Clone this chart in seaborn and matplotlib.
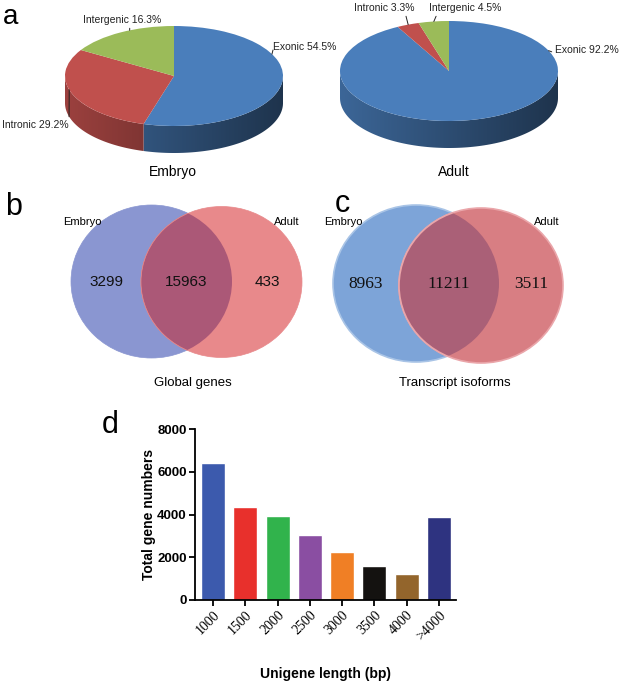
# Transcriptome overview: read distribution pies, Venn overlaps and unigene length bars

import numpy as np
import matplotlib
matplotlib.use('Agg')
import matplotlib.pyplot as plt
from matplotlib.patches import Ellipse, Polygon
import seaborn as sns

sns.set_theme(style='ticks')
plt.rcParams['font.family'] = ['Liberation Sans', 'DejaVu Sans']
plt.rcParams['text.color'] = 'black'
plt.rcParams['axes.labelcolor'] = 'black'
plt.rcParams['xtick.color'] = 'black'
plt.rcParams['ytick.color'] = 'black'

W, H = 620, 690

# ---- a: read distribution (%) ----
region_names = ['Exonic', 'Intronic', 'Intergenic']
embryo_pct = [54.5, 29.2, 16.3]
adult_pct = [92.2, 3.3, 4.5]
pie_colors = ['#4a7ebb', '#c0504d', '#9bbb59']

# ---- b, c: Venn counts (embryo only, shared, adult only) ----
venn_sets = ['Embryo', 'Adult']
genes_venn = [3299, 15963, 433]
isoform_venn = [8963, 11211, 3511]

# ---- d: unigene length distribution ----
length_bins = ['1000', '1500', '2000', '2500', '3000', '3500', '4000', '>4000']
gene_counts = [6400, 4350, 3950, 3060, 2230, 1600, 1230, 3860]
bar_colors = ['#3c5aad', '#e8302c', '#31b34c', '#8a4ea2',
              '#f07f25', '#141210', '#93652c', '#2e3380']


def box(x0, y0, x1, y1):
    # 像素框 (左上為原點) -> figure 座標
    return [x0 / W, 1 - y1 / H, (x1 - x0) / W, (y1 - y0) / H]


def ftext(px, py, s, **kw):
    fig.text(px / W, 1 - py / H, s, **kw)


fig = plt.figure(figsize=(6.2, 6.9), dpi=100)

# ---------------- a: 3D-looking pies ----------------
RX, RY, DEPTH = 109, 50, 27


def pie3d(ax, pct, cx, cy, x0, x1, y0, y1):
    wedges, _ = ax.pie(pct, colors=pie_colors, startangle=90,
                       counterclock=False, wedgeprops=dict(linewidth=0))
    d = DEPTH / RY
    gx = np.linspace(-1, 1, 256)
    shade = 0.61 - 0.2 * gx
    # side wall: front half of each wedge, gradient clipped to its outline
    for w, c in zip(wedges, pie_colors):
        rgb = np.array(matplotlib.colors.to_rgb(c))
        for lo, hi in [(-180, 0), (180, 360)]:
            a, b = max(w.theta1, lo), min(w.theta2, hi)
            if b <= a:
                continue
            ts = np.radians(np.linspace(a, b, 120))
            xs, ys = np.cos(ts), np.sin(ts)
            outline = np.column_stack([np.concatenate([xs, xs[::-1]]),
                                       np.concatenate([ys, ys[::-1] - d])])
            poly = Polygon(outline, closed=True, fc='none', ec='none')
            ax.add_patch(poly)
            img = rgb[None, None, :] * shade[None, :, None]
            im = ax.imshow(img, extent=(-1, 1, -1 - d, 0), aspect='auto',
                           interpolation='bilinear', zorder=0)
            im.set_clip_path(poly)
    ax.set_aspect('auto')
    ax.set_xlim((x0 - cx) / RX, (x1 - cx) / RX)
    ax.set_ylim((cy - y1) / RY, (cy - y0) / RY)
    ax.axis('off')
    return wedges


def pie_label(ax, text, ang, tx, ty, ha, relpos):
    t = np.radians(ang)
    ax.annotate(text, xy=(np.cos(t), np.sin(t)), xycoords='data',
                xytext=(tx, H - ty), textcoords='figure pixels',
                ha=ha, va='center', fontsize=7.5, color='#222222',
                arrowprops=dict(arrowstyle='-', lw=0.7, color='#222222',
                                shrinkA=0, shrinkB=0, relpos=relpos))


ax_e = fig.add_axes(box(0, 0, 310, 190))
pie3d(ax_e, embryo_pct, 174, 76, 0, 310, 0, 190)
pie_label(ax_e, f'{region_names[0]} {embryo_pct[0]}%', 26, 273, 47, 'left', (0, 0.2))
pie_label(ax_e, f'{region_names[2]} {embryo_pct[2]}%', 114, 122, 20, 'center', (0.6, 0))
pie_label(ax_e, f'{region_names[1]} {embryo_pct[1]}%', 196, 69, 125, 'right', (1, 0.4))

ax_a = fig.add_axes(box(310, 0, 620, 190))
pie3d(ax_a, adult_pct, 449, 71, 310, 620, 0, 190)
pie_label(ax_a, f'{region_names[0]} {adult_pct[0]}%', 24, 555, 50, 'left', (0, 0.2))
pie_label(ax_a, f'{region_names[1]} {adult_pct[1]}%', 112, 384, 8, 'center', (0.85, 0))
pie_label(ax_a, f'{region_names[2]} {adult_pct[2]}%', 98, 465, 8, 'center', (0.12, 0))

ftext(173, 172, 'Embryo', ha='center', va='center', fontsize=10)
ftext(454, 172, 'Adult', ha='center', va='center', fontsize=10)


# ---------------- b, c: Venn diagrams ----------------
def venn(ax, counts, left, right, cols, edges, lw, font, fsize):
    l_cx, l_cy, l_w, l_h = left
    r_cx, r_cy, r_w, r_h = right
    e1 = Ellipse((l_cx, l_cy), l_w, l_h, fc=cols[0], ec=edges[0], lw=lw)
    e2 = Ellipse((r_cx, r_cy), r_w, r_h, fc=cols[1], ec=edges[1], lw=lw)
    ov = Ellipse((r_cx, r_cy), r_w, r_h, fc=cols[2], ec=edges[1], lw=lw)
    ax.add_patch(e1)
    ax.add_patch(e2)
    ax.add_patch(ov)
    ov.set_clip_path(e1)
    ll, lr = l_cx - l_w / 2, l_cx + l_w / 2
    rl, rr = r_cx - r_w / 2, r_cx + r_w / 2
    ym = (l_cy + r_cy) / 2
    for xm, n in zip([(ll + rl) / 2, (rl + lr) / 2, (lr + rr) / 2], counts):
        ax.text(xm, ym, str(n), ha='center', va='center', fontsize=fsize,
                family=font, color='#111111')


ax_b = fig.add_axes(box(0, 190, 310, 400))
ax_b.set_xlim(0, 310)
ax_b.set_ylim(400, 190)
ax_b.axis('off')
venn(ax_b, genes_venn, (151.5, 281.5, 161, 153), (221.5, 282, 161, 151),
     ['#8a96d1', '#e8898b', '#ab5877'], ['#8a96d1', '#e8898b'], 0.5,
     ['Liberation Sans'], 11)

ax_c = fig.add_axes(box(300, 190, 620, 400))
ax_c.set_xlim(300, 620)
ax_c.set_ylim(400, 190)
ax_c.axis('off')
venn(ax_c, isoform_venn, (416, 283.5, 166, 157), (481, 285.5, 164, 155),
     ['#7da4d8', '#d87e83', '#aa6077'], ['#a9c4e6', '#eaa6aa'], 1.2,
     ['Liberation Serif'], 12.5)

ftext(82, 222, venn_sets[0], ha='center', va='center', fontsize=8)
ftext(287, 222, venn_sets[1], ha='center', va='center', fontsize=8)
ftext(343, 222, venn_sets[0], ha='center', va='center', fontsize=8)
ftext(547, 222, venn_sets[1], ha='center', va='center', fontsize=8)
ftext(193, 383, 'Global genes', ha='center', va='center', fontsize=9.5)
ftext(455, 383, 'Transcript isoforms', ha='center', va='center', fontsize=9.5)

# ---------------- d: bar chart ----------------
ax_d = fig.add_axes(box(195, 429, 456, 600))
sns.barplot(x=length_bins, y=gene_counts, hue=length_bins, palette=bar_colors,
            legend=False, saturation=1, width=0.74, ax=ax_d)
ax_d.set_ylim(0, 8000)
ax_d.set_xlim(-0.56, 7.53)
sns.despine(ax=ax_d)
for s in ['left', 'bottom']:
    ax_d.spines[s].set_linewidth(1.3)
    ax_d.spines[s].set_color('black')
ax_d.tick_params(axis='both', length=4, width=1.3, color='black', pad=2)
yt = [0, 2000, 4000, 6000, 8000]
ax_d.set_yticks(yt)
ax_d.set_yticklabels([str(v) for v in yt], fontsize=9.5, fontweight='bold')
ax_d.set_xticks(range(len(length_bins)))
ax_d.set_xticklabels(length_bins, rotation=45, ha='right',
                     rotation_mode='anchor', fontsize=10,
                     family=['Liberation Serif'])
ax_d.set_xlabel('Unigene length (bp)', fontsize=10, fontweight='bold')
ax_d.set_ylabel('Total gene numbers', fontsize=10, fontweight='bold')
ax_d.xaxis.set_label_coords(0.5, -0.39)
ax_d.yaxis.set_label_coords(-0.15, 0.5)

# panel letters
ftext(3, 24, 'a', ha='left', va='baseline', fontsize=20)
ftext(5, 215, 'b', ha='left', va='baseline', fontsize=22)
ftext(335, 212, 'c', ha='left', va='baseline', fontsize=22)
ftext(102, 433, 'd', ha='left', va='baseline', fontsize=22)

fig.savefig('out.png', dpi=100, facecolor='white')
